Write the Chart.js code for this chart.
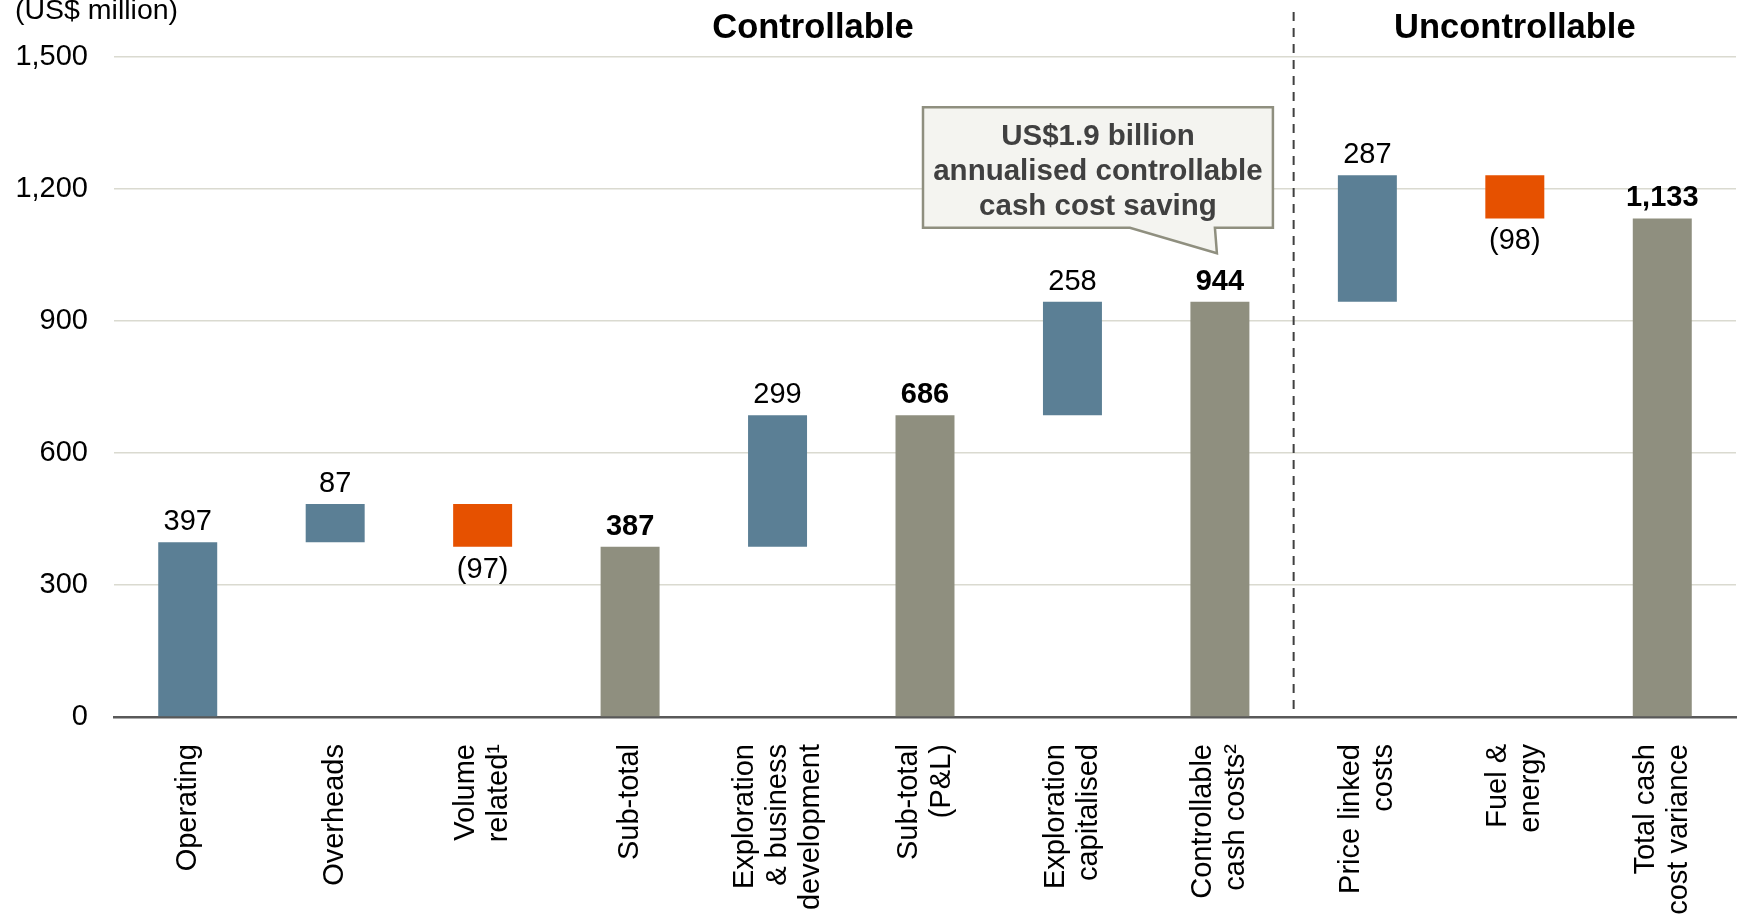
<!DOCTYPE html>
<html>
<head>
<title>Cash cost variance</title>
<script src="https://cdn.jsdelivr.net/npm/chart.js"></script>
<style>
  html, body { margin: 0; padding: 0; background: #fff; }
  #wrap { width: 1739px; height: 923px; }
</style>
</head>
<body>
<div id="wrap"><canvas id="chart"></canvas></div>
<script>
// data
const categories = [
  ["Operating"], ["Overheads"], ["Volume", "related\u00b9"], ["Sub-total"],
  ["Exploration", "& business", "development"], ["Sub-total", "(P&L)"],
  ["Exploration", "capitalised"], ["Controllable", "cash costs\u00b2"],
  ["Price linked", "costs"], ["Fuel &", "energy"], ["Total cash", "cost variance"]
];
const values = [397, 87, -97, 387, 299, 686, 258, 944, 287, -98, 1133];
const isTotal = [false, false, false, true, false, true, false, true, false, false, true];
const yTicks = [0, 300, 600, 900, 1200, 1500];
const groupTitles = ["Controllable", "Uncontrollable"];
const calloutLines = ["US$1.9 billion", "annualised controllable", "cash cost saving"];
const unitLabel = "(US$ million)";

const FONT = "'Liberation Sans', Arial, sans-serif";
const BLUE = '#5B7F95', ORANGE = '#E65100', GREY = '#8F8F7F';

// waterfall: each step floats on the running total, totals start at 0
let run = 0;
const bars = values.map((v, i) => {
  if (isTotal[i]) { run = v; return [0, v]; }
  const s = run;
  run += v;
  return [s, run];
});
const colors = values.map((v, i) => isTotal[i] ? GREY : (v < 0 ? ORANGE : BLUE));

function fmt(v) {
  return v < 0 ? '(' + Math.abs(v).toLocaleString('en-US') + ')' : v.toLocaleString('en-US');
}

const extras = {
  id: 'extras',
  afterDatasetsDraw(chart) {
    const ctx = chart.ctx;
    const xs = chart.scales.x, ys = chart.scales.y;
    const step = xs.getPixelForValue(1) - xs.getPixelForValue(0);

    ctx.save();
    ctx.fillStyle = '#000';

    // value labels
    ctx.textAlign = 'center';
    ctx.textBaseline = 'middle';
    bars.forEach((b, i) => {
      const x = xs.getPixelForValue(i);
      ctx.font = (isTotal[i] ? 'bold ' : '') + '29px ' + FONT;
      if (values[i] < 0) {
        ctx.fillText(fmt(values[i]), x, ys.getPixelForValue(Math.min(...b)) + 23);
      } else {
        ctx.fillText(fmt(values[i]), x, ys.getPixelForValue(Math.max(...b)) - 20);
      }
    });

    // category labels, rotated, lines centred on the tick
    ctx.font = '29px ' + FONT;
    ctx.textAlign = 'right';
    const lh = 33;
    categories.forEach((lines, i) => {
      ctx.save();
      ctx.translate(xs.getPixelForValue(i), 744);
      ctx.rotate(-Math.PI / 2);
      lines.forEach((t, j) => ctx.fillText(t, 0, (j - (lines.length - 1) / 2) * lh));
      ctx.restore();
    });

    // divider
    const dx = (xs.getPixelForValue(7) + xs.getPixelForValue(8)) / 2;
    ctx.strokeStyle = '#404040';
    ctx.lineWidth = 2;
    ctx.setLineDash([9, 7]);
    ctx.beginPath();
    ctx.moveTo(dx, 12);
    ctx.lineTo(dx, 712);
    ctx.stroke();
    ctx.setLineDash([]);

    // group titles
    ctx.font = 'bold 34.5px ' + FONT;
    ctx.textAlign = 'center';
    ctx.fillText(groupTitles[0], xs.getPixelForValue(4) + 0.24 * step, 28);
    ctx.fillText(groupTitles[1], xs.getPixelForValue(9), 28);

    // unit label
    ctx.font = '28.5px ' + FONT;
    ctx.textAlign = 'left';
    ctx.textBaseline = 'alphabetic';
    ctx.fillText(unitLabel, 15, 19);

    // callout
    const x7 = xs.getPixelForValue(7);
    const L = xs.getPixelForValue(5) - 2, R = x7 + 53;
    const T = ys.getPixelForValue(1386), B = ys.getPixelForValue(1112);
    ctx.beginPath();
    ctx.moveTo(L, T);
    ctx.lineTo(R, T);
    ctx.lineTo(R, B);
    ctx.lineTo(x7 - 5, B);
    ctx.lineTo(x7 - 3, ys.getPixelForValue(1054));
    ctx.lineTo(x7 - 90, B);
    ctx.lineTo(L, B);
    ctx.closePath();
    ctx.fillStyle = '#F4F4F0';
    ctx.fill();
    ctx.strokeStyle = GREY;
    ctx.lineWidth = 2.5;
    ctx.stroke();
    ctx.fillStyle = '#404040';
    ctx.font = 'bold 29.5px ' + FONT;
    ctx.textAlign = 'center';
    ctx.textBaseline = 'middle';
    const cx = (L + R) / 2, cy = (T + B) / 2 + 4;
    calloutLines.forEach((t, j) => ctx.fillText(t, cx, cy + (j - 1) * 35));

    ctx.restore();
  }
};

new Chart(document.getElementById('chart').getContext('2d'), {
  type: 'bar',
  data: {
    labels: categories,
    datasets: [{
      data: bars,
      backgroundColor: colors,
      borderWidth: 0,
      barPercentage: 0.4,
      categoryPercentage: 1.0
    }]
  },
  options: {
    responsive: true,
    maintainAspectRatio: false,
    animation: false,
    layout: { padding: { top: 57, right: 3, left: 0, bottom: 0 } },
    plugins: { legend: { display: false }, tooltip: { enabled: false } },
    scales: {
      x: {
        grid: { display: false },
        border: { color: '#595959', width: 2.5 },
        ticks: { display: false },
        afterFit: s => { s.height = 206; }
      },
      y: {
        min: 0,
        max: 1500,
        afterBuildTicks: s => { s.ticks = yTicks.map(v => ({ value: v })); },
        grid: { color: '#DADAD0', lineWidth: 1.5, drawTicks: false },
        border: { display: false },
        ticks: {
          color: '#000',
          padding: 26,
          font: { family: FONT, size: 29 },
          callback: v => v.toLocaleString('en-US')
        },
        afterFit: s => { s.width = 114; }
      }
    }
  },
  plugins: [extras]
});
</script>
</body>
</html>
